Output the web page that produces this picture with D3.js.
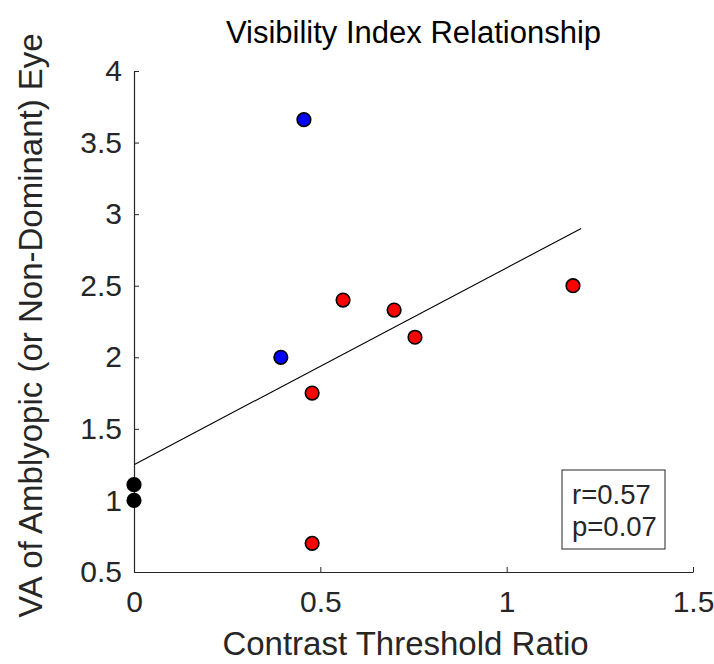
<!DOCTYPE html>
<html>
<head>
<meta charset="utf-8">
<script src="https://cdn.jsdelivr.net/npm/d3@7"></script>
<style>
  body { margin: 0; background: #fff; }
  svg { font-family: "Liberation Sans", Arial, Helvetica, sans-serif; }
</style>
</head>
<body>
<script>
// data
var xTicks = [0, 0.5, 1, 1.5]
var yTicks = [0.5, 1, 1.5, 2, 2.5, 3, 3.5, 4]

var blackX = [0, 0]
var blackY = [1.11, 1.0]
var blueX = [0.456, 0.394]
var blueY = [3.66, 2.0]
var redX = [0.561, 0.698, 0.754, 0.478, 1.178, 0.478]
var redY = [2.40, 2.33, 2.14, 1.75, 2.50, 0.70]

// regression line end points
var fitX = [0, 1.2]
var fitY = [1.25, 2.9]

var statLines = ["r=0.57", "p=0.07"]

var W = 714, H = 664
var margin = {top: 71, right: 21, bottom: 92, left: 134}
var width = W - margin.left - margin.right,
    height = H - margin.top - margin.bottom

var svg = d3.select("body").append("svg")
    .attr("width", W)
    .attr("height", H)

var g = svg.append("g")
    .attr("transform", "translate(" + margin.left + "," + margin.top + ")")

var x = d3.scaleLinear().domain([0, 1.5]).range([0, width])
var y = d3.scaleLinear().domain([0.5, 4]).range([height, 0])

var axisCol = "#262626"

// axes, ticks pointing inward like matlab
var xAxis = d3.axisBottom(x)
    .tickValues(xTicks)
    .tickFormat(d3.format("~g"))
    .tickSizeInner(-5)
    .tickSizeOuter(0)
    .tickPadding(19)

var yAxis = d3.axisLeft(y)
    .tickValues(yTicks)
    .tickFormat(d3.format("~g"))
    .tickSizeInner(-5)
    .tickSizeOuter(0)
    .tickPadding(12)

var gx = g.append("g")
    .attr("transform", "translate(0," + height + ")")
    .call(xAxis)
var gy = g.append("g").call(yAxis)

;[gx, gy].forEach(function(a) {
  a.select(".domain").attr("stroke", axisCol).attr("stroke-width", 1.2)
  a.selectAll(".tick line").attr("stroke", axisCol).attr("stroke-width", 1)
  a.selectAll(".tick text")
    .attr("fill", axisCol)
    .style("font-size", "30px")
    .style("font-family", "'Liberation Sans', Arial, sans-serif")
})

// fit line
var fit = fitX.map(function(d, i) { return [d, fitY[i]] })
g.append("path")
    .datum(fit)
    .attr("fill", "none")
    .attr("stroke", "#000")
    .attr("stroke-width", 1.1)
    .attr("d", d3.line()
      .x(function(d) { return x(d[0]) })
      .y(function(d) { return y(d[1]) }))

// points
function addPoints(xs, ys, col) {
  var pts = xs.map(function(d, i) { return {x: d, y: ys[i]} })
  g.selectAll(null)
    .data(pts)
    .enter().append("circle")
    .attr("cx", function(d) { return x(d.x) })
    .attr("cy", function(d) { return y(d.y) })
    .attr("r", 6.8)
    .attr("fill", col)
    .attr("stroke", "#000")
    .attr("stroke-width", 1.6)
}
addPoints(redX, redY, "#ff0000")
addPoints(blueX, blueY, "#0000ff")
addPoints(blackX, blackY, "#000000")

// r / p annotation box
var box = g.append("g")
    .attr("transform", "translate(" + (width - 131) + "," + (height - 102) + ")")
box.append("rect")
    .attr("width", 103)
    .attr("height", 79)
    .attr("fill", "#fff")
    .attr("stroke", axisCol)
    .attr("stroke-width", 1)
box.selectAll("text")
    .data(statLines)
    .enter().append("text")
    .attr("x", 10)
    .attr("y", function(d, i) { return 34 + i * 32 })
    .attr("fill", axisCol)
    .style("font-size", "27.5px")
    .text(function(d) { return d })

// title
svg.append("text")
    .attr("x", margin.left + width / 2)
    .attr("y", 43)
    .attr("text-anchor", "middle")
    .attr("fill", "#000")
    .style("font-size", "31px")
    .text("Visibility Index Relationship")

// axis labels
svg.append("text")
    .attr("x", margin.left + width / 2 - 8)
    .attr("y", 655)
    .attr("text-anchor", "middle")
    .attr("fill", axisCol)
    .style("font-size", "33px")
    .text("Contrast Threshold Ratio")

svg.append("text")
    .attr("transform", "translate(42," + (margin.top + height / 2 + 4) + ") rotate(-90)")
    .attr("text-anchor", "middle")
    .attr("fill", axisCol)
    .style("font-size", "33px")
    .text("VA of Amblyopic (or Non-Dominant) Eye")
</script>
</body>
</html>
